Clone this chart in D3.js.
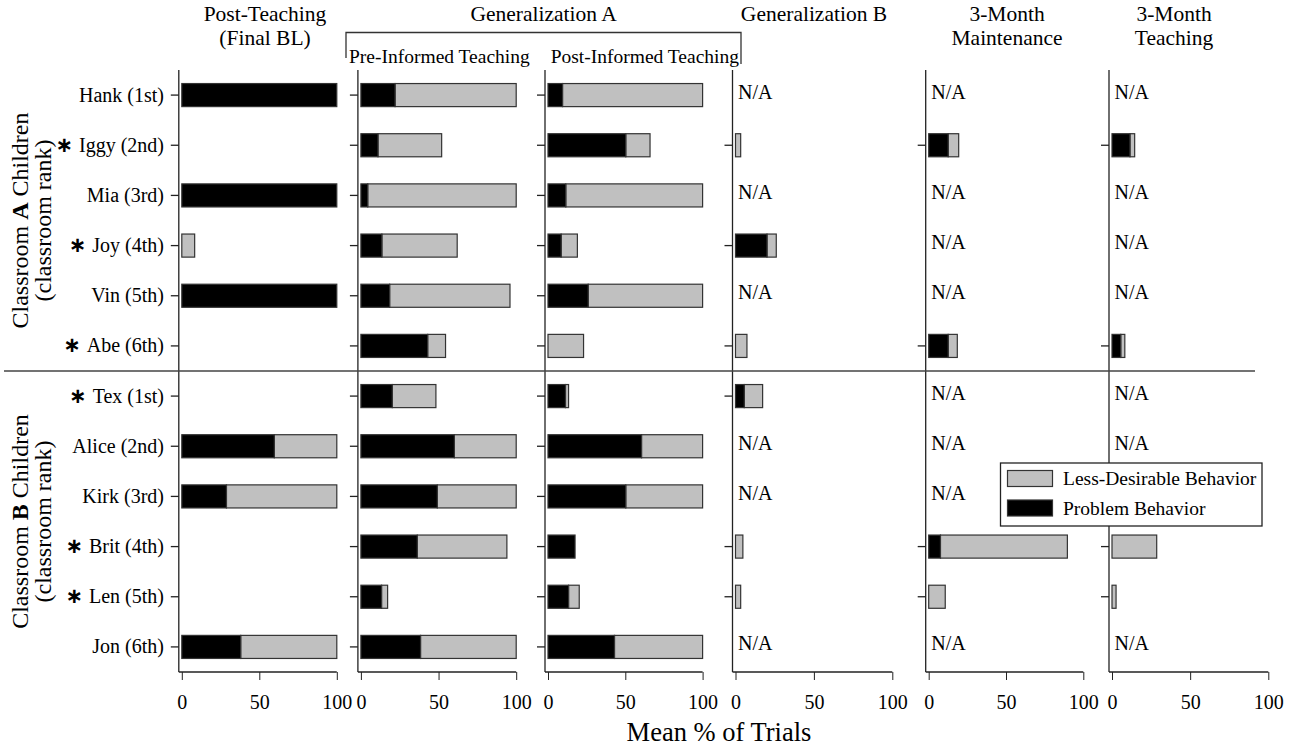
<!DOCTYPE html>
<html lang="en">
<head>
	<meta charset="UTF-8">
	<title>Mean % of Trials by child</title>
	<script src="https://d3js.org/d3.v7.min.js"></script>
	<style>
		html, body {
			margin: 0;
			padding: 0;
			background: #fff;
		}
		svg text {
			font-family: 'Liberation Serif', 'Times New Roman', serif;
			fill: #000;
		}
	</style>
</head>
<body>
	<div id="chart"></div>

	<script>

	//////////////////
	// DATA         //
	//////////////////

	var children = ['Hank (1st)', 'Iggy (2nd)', 'Mia (3rd)', 'Joy (4th)', 'Vin (5th)', 'Abe (6th)',
	                'Tex (1st)', 'Alice (2nd)', 'Kirk (3rd)', 'Brit (4th)', 'Len (5th)', 'Jon (6th)'];

	// children marked with an asterisk
	var starred = [false, true, false, true, false, true,
	               true, false, false, true, true, false];

	var phases = ['Post-Teaching', 'Pre-Informed Teaching', 'Post-Informed Teaching',
	              'Generalization B', '3-Month Maintenance', '3-Month Teaching'];

	// Problem Behavior, mean % of trials (null = N/A)
	var postTeachingProblem   = [100, 0, 100, 0, 100, 0, 0, 59.7, 28.8, 0, 0, 38];
	var preInformedProblem    = [22, 11, 4.4, 13.5, 18.5, 43, 20.2, 60.2, 49.2, 36.3, 13.3, 38.4];
	var postInformedProblem   = [9.4, 50.3, 11.5, 8.5, 26, 0, 11.3, 60.5, 50.3, 17.5, 13.3, 43];
	var genBProblem           = [null, 0, null, 20.1, null, 0, 5.6, null, null, 0, 0, null];
	var maintenanceProblem    = [null, 12.6, null, null, null, 12.6, null, null, null, 7.6, 0, null];
	var monthTeachingProblem  = [null, 11.5, null, null, null, 5.6, null, null, null, 0, 0, null];

	// Less-Desirable Behavior, mean % of trials (null = N/A)
	var postTeachingLess      = [0, 0, 0, 8.3, 0, 0, 0, 40.3, 71.2, 0, 0, 62];
	var preInformedLess       = [78, 41, 95.6, 48.5, 77.5, 11.5, 28.1, 39.8, 50.8, 57.7, 3.9, 61.6];
	var postInformedLess      = [90.6, 15.7, 88.5, 10.5, 74, 23, 2, 39.5, 49.7, 0, 6.9, 57];
	var genBLess              = [null, 3.3, null, 5.9, null, 7.3, 11.7, null, null, 4.7, 3.3, null];
	var maintenanceLess       = [null, 6.8, null, null, null, 5.9, null, null, null, 82.1, 10.7, null];
	var monthTeachingLess     = [null, 3, null, null, null, 2.6, null, null, null, 28.6, 2.6, null];

	var xTicks = [0, 50, 100];

	var legendLabels = ['Less-Desirable Behavior', 'Problem Behavior'];

	//////////////////
	// LAYOUT       //
	//////////////////

	var width = 1295,
	    height = 748,
	    plotTop = 70,
	    plotBottom = 672;

	var grayFill = '#c0c0c0',
	    barStroke = '#333';

	// legend box (drawn last, white, it hides what lies below it)
	var legendBox = { x: 1000.5, y: 463, w: 261.5, h: 63 };

	var panels = [
		{ range: [181.8, 336.8], problem: postTeachingProblem,  less: postTeachingLess },
		{ range: [360.9, 516.2], problem: preInformedProblem,   less: preInformedLess },
		{ range: [548, 702.6],   problem: postInformedProblem,  less: postInformedLess },
		{ range: [735.5, 892.3], problem: genBProblem,          less: genBLess },
		{ range: [928.7, 1083.3], problem: maintenanceProblem,  less: maintenanceLess },
		{ range: [1112, 1268.3], problem: monthTeachingProblem, less: monthTeachingLess }
	];

	var svg = d3.select('#chart')
		.append('svg')
		.attr('width', width)
		.attr('height', height);

	var y = d3.scaleBand()
		.domain(children)
		.range([plotTop, plotBottom])
		.paddingInner(0.54)
		.paddingOuter(0.27);

	//////////////////
	// PANELS       //
	//////////////////

	panels.forEach(function(p) {
		var x = d3.scaleLinear().domain([0, 100]).range(p.range);
		var axisX = p.range[0] - 3;
		var g = svg.append('g');

		// bottom axis
		var xAxis = g.append('g')
			.attr('transform', 'translate(0,' + plotBottom + ')')
			.call(d3.axisBottom(x).tickValues(xTicks).tickSize(8).tickSizeOuter(0).tickPadding(15));
		xAxis.select('.domain').remove();
		xAxis.selectAll('line').attr('stroke', '#222');
		xAxis.selectAll('text')
			.attr('font-size', '20px')
			.attr('font-family', "'Liberation Serif', 'Times New Roman', serif");

		g.append('line')
			.attr('x1', axisX).attr('x2', p.range[1])
			.attr('y1', plotBottom).attr('y2', plotBottom)
			.attr('stroke', '#222').attr('stroke-width', 1.3);

		// left axis, ticks only where there is data
		var withData = children.filter(function(d, i) { return p.problem[i] !== null; });
		var yAxis = g.append('g')
			.attr('transform', 'translate(' + axisX + ',0)')
			.call(d3.axisLeft(y).tickValues(withData).tickSize(8).tickSizeOuter(0).tickFormat(''));
		yAxis.select('.domain').remove();
		yAxis.selectAll('line').attr('stroke', '#222').attr('stroke-width', 1.3);

		g.append('line')
			.attr('x1', axisX).attr('x2', axisX)
			.attr('y1', plotTop).attr('y2', plotBottom)
			.attr('stroke', '#222').attr('stroke-width', 1.3);

		var rows = children.map(function(c, i) {
			return { name: c, problem: p.problem[i], less: p.less[i] };
		});

		// less-desirable segment (stacked after problem)
		g.selectAll('.less')
			.data(rows.filter(function(d) { return d.problem !== null && d.less > 0; }))
			.enter().append('rect')
			.attr('class', 'less')
			.attr('x', function(d) { return x(d.problem); })
			.attr('y', function(d) { return y(d.name); })
			.attr('width', function(d) { return x(d.problem + d.less) - x(d.problem); })
			.attr('height', y.bandwidth())
			.attr('fill', grayFill)
			.attr('stroke', barStroke)
			.attr('stroke-width', 1.2);

		// problem segment
		g.selectAll('.problem')
			.data(rows.filter(function(d) { return d.problem !== null && (d.problem > 0 || d.less === 0); }))
			.enter().append('rect')
			.attr('class', 'problem')
			.attr('x', x(0))
			.attr('y', function(d) { return y(d.name); })
			.attr('width', function(d) { return x(d.problem) - x(0); })
			.attr('height', y.bandwidth())
			.attr('fill', '#000')
			.attr('stroke', function(d) { return d.problem === 0 ? '#000' : barStroke; })
			.attr('stroke-width', function(d) { return d.problem === 0 ? 2 : 1.2; });

		// N/A labels (skip the one that the legend covers)
		g.selectAll('.na')
			.data(rows.filter(function(d) {
				var cy = y(d.name) + y.bandwidth() / 2;
				var hidden = axisX + 5 > legendBox.x && axisX + 5 < legendBox.x + legendBox.w &&
				             cy > legendBox.y && cy < legendBox.y + legendBox.h;
				return d.problem === null && !hidden;
			}))
			.enter().append('text')
			.attr('class', 'na')
			.attr('x', axisX + 5.5)
			.attr('y', function(d) { return y(d.name) + y.bandwidth() / 2 + 3.5; })
			.attr('font-size', '20px')
			.text('N/A');
	});

	//////////////////
	// ROW LABELS   //
	//////////////////

	var labels = svg.selectAll('.rowLabel')
		.data(children)
		.enter().append('text')
		.attr('class', 'rowLabel')
		.attr('x', 164)
		.attr('y', function(d) { return y(d) + y.bandwidth() / 2 + 6.5; })
		.attr('text-anchor', 'end')
		.attr('font-size', '20px');

	labels.filter(function(d, i) { return starred[i]; })
		.append('tspan')
		.attr('font-family', "'DejaVu Sans', sans-serif")
		.attr('font-weight', 'bold')
		.attr('font-size', '21px')
		.text('\u2217');

	labels.append('tspan')
		.attr('dx', function(d, i) { return starred[i] ? 6 : 0; })
		.text(function(d) { return d; });

	// separator between classrooms
	var sepY = (y(children[5]) + y.bandwidth() + y(children[6])) / 2;
	svg.append('line')
		.attr('x1', 4).attr('x2', 1255)
		.attr('y1', sepY).attr('y2', sepY)
		.attr('stroke', '#444').attr('stroke-width', 1.5);

	// classroom group labels
	var groups = [
		{ letter: 'A', rows: children.slice(0, 6) },
		{ letter: 'B', rows: children.slice(6) }
	];
	groups.forEach(function(gr) {
		var cy = (y(gr.rows[0]) + y(gr.rows[5]) + y.bandwidth()) / 2;
		var t1 = svg.append('text')
			.attr('transform', 'translate(28,' + cy + ') rotate(-90)')
			.attr('text-anchor', 'middle')
			.attr('font-size', '24px');
		t1.append('tspan').text('Classroom ');
		t1.append('tspan').attr('font-weight', 'bold').text(gr.letter);
		t1.append('tspan').text(' Children');

		svg.append('text')
			.attr('transform', 'translate(51,' + cy + ') rotate(-90)')
			.attr('text-anchor', 'middle')
			.attr('font-size', '24px')
			.text('(classroom rank)');
	});

	//////////////////
	// HEADERS      //
	//////////////////

	var headers = [
		{ lines: ['Post-Teaching', '(Final BL)'], x: 265 },
		{ lines: ['Generalization A'], x: 543.6 },
		{ lines: ['Generalization B'], x: 814 },
		{ lines: ['3-Month', 'Maintenance'], x: 1007 },
		{ lines: ['3-Month', 'Teaching'], x: 1174 }
	];
	headers.forEach(function(h) {
		h.lines.forEach(function(l, i) {
			svg.append('text')
				.attr('x', h.x)
				.attr('y', 21 + i * 24)
				.attr('text-anchor', 'middle')
				.attr('font-size', '21.5px')
				.text(l);
		});
	});

	// bracket over the two Generalization A panels
	svg.append('path')
		.attr('d', 'M346,58 V32.5 H741 V64')
		.attr('fill', 'none')
		.attr('stroke', '#333')
		.attr('stroke-width', 1.3);

	svg.append('text')
		.attr('x', 349).attr('y', 63)
		.attr('font-size', '19.5px')
		.text(phases[1]);

	svg.append('text')
		.attr('x', 739).attr('y', 63)
		.attr('text-anchor', 'end')
		.attr('font-size', '19.5px')
		.text(phases[2]);

	// x axis title
	svg.append('text')
		.attr('x', 719).attr('y', 741)
		.attr('text-anchor', 'middle')
		.attr('font-size', '26.5px')
		.text('Mean % of Trials');

	//////////////////
	// LEGEND       //
	//////////////////

	var legend = svg.append('g');
	legend.append('rect')
		.attr('x', legendBox.x).attr('y', legendBox.y)
		.attr('width', legendBox.w).attr('height', legendBox.h)
		.attr('fill', '#fff')
		.attr('stroke', '#222')
		.attr('stroke-width', 1.3);

	var legendFills = [grayFill, '#000'];
	legendLabels.forEach(function(l, i) {
		legend.append('rect')
			.attr('x', legendBox.x + 7).attr('y', legendBox.y + 7.5 + i * 29.5)
			.attr('width', 45).attr('height', 16)
			.attr('fill', legendFills[i])
			.attr('stroke', barStroke)
			.attr('stroke-width', 1.2);
		legend.append('text')
			.attr('x', legendBox.x + 62.5).attr('y', legendBox.y + 22 + i * 29.5)
			.attr('font-size', '19.5px')
			.text(l);
	});

	</script>
</body>
</html>
